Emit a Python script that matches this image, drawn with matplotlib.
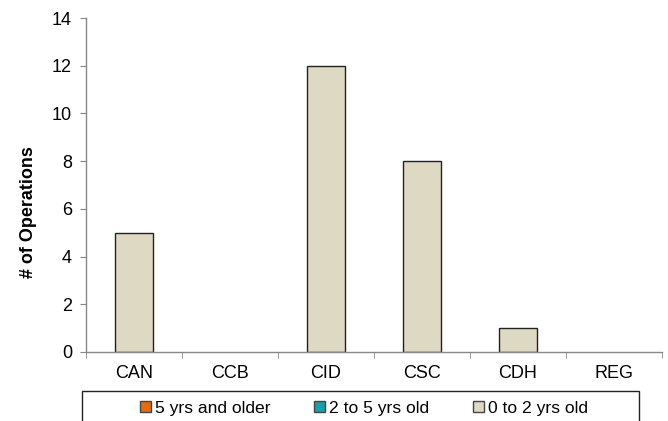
import matplotlib
matplotlib.use("Agg")
import matplotlib.pyplot as plt
from matplotlib.patches import Rectangle
import numpy as np

plt.rcParams['font.family'] = ['Liberation Sans', 'DejaVu Sans']

categories = ["CAN", "CCB", "CID", "CSC", "CDH", "REG"]
series_names = ["5 yrs and older", "2 to 5 yrs old", "0 to 2 yrs old"]
older_5 = [0, 0, 0, 0, 0, 0]
yrs_2_to_5 = [0, 0, 0, 0, 0, 0]
yrs_0_to_2 = [5, 0, 12, 8, 1, 0]
colors = ["#E46C0A", "#17A0A8", "#DDD9C3"]

FS = 13

fig = plt.figure(figsize=(6.68, 4.21), dpi=100)
ax = fig.add_axes([86/668, 1 - 352/421, 576/668, (352 - 18)/421])

x = np.arange(len(categories))
bottom = np.zeros(len(categories))
handles = []
for name, vals, col in zip(series_names, [older_5, yrs_2_to_5, yrs_0_to_2], colors):
    vals = np.array(vals, dtype=float)
    # empty segments get no outline so nothing is drawn on the axis line
    widths = [1.0 if v > 0 else 0.0 for v in vals]
    bars = ax.bar(x, vals, width=0.4, bottom=bottom, color=col,
                  edgecolor="#222222", linewidth=widths, label=name, zorder=1)
    handles.append(bars)
    bottom += vals

ax.set_xlim(-0.5, len(categories) - 0.5)
ax.set_ylim(0, 14)
ax.set_yticks(np.arange(0, 15, 2))
ax.set_xticks(x)
ax.set_xticklabels(categories)
ax.set_xticks(np.arange(-0.5, len(categories), 1), minor=True)

for side in ["top", "right"]:
    ax.spines[side].set_visible(False)
for side in ["left", "bottom"]:
    ax.spines[side].set_color("#888888")
    ax.spines[side].set_linewidth(1.0)

ax.tick_params(axis="x", which="major", length=0, pad=9, labelsize=FS)
ax.tick_params(axis="x", which="minor", length=4, color="#888888", direction="out")
ax.tick_params(axis="y", length=4, color="#888888", pad=6, labelsize=FS)

ax.set_ylabel("# of Operations", fontsize=FS, fontweight="bold")
ax.yaxis.set_label_coords(-0.085, 0.42)

# legend frame, running off the bottom edge of the figure
fig.patches.append(Rectangle((82/668, -0.05), (639 - 82)/668, 0.05 + (421 - 391)/421,
                             transform=fig.transFigure, fill=False,
                             edgecolor="#222222", linewidth=1.0, zorder=5))

legend_handles = [Rectangle((0, 0), 1, 1, facecolor=c, edgecolor="#444444", linewidth=1.0)
                  for c in colors]
fig.legend(handles=legend_handles, labels=series_names, loc="center",
           bbox_to_anchor=(364/668, 1 - 408/421), ncol=3, frameon=False,
           fontsize=12.6, handlelength=0.6, handleheight=0.6,
           handletextpad=0.25, columnspacing=2.5, borderpad=0)

fig.savefig("out.png", dpi=100)
